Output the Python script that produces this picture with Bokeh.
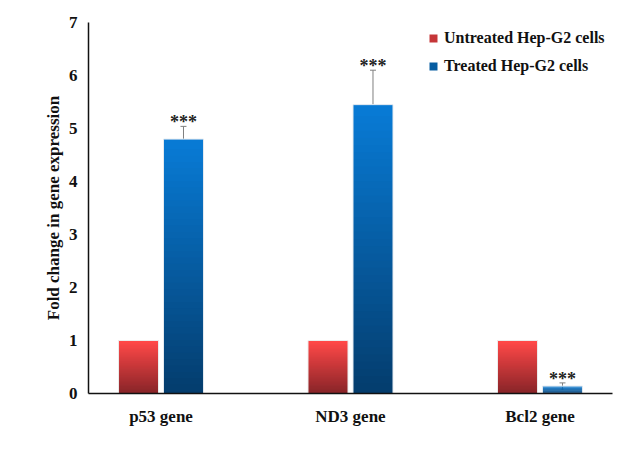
from bokeh.plotting import figure
from bokeh.models import (Range1d, FixedTicker, ColumnDataSource, Whisker, TeeHead,
                          Legend, LegendItem)
from bokeh.core.properties import value
from bokeh.embed import file_html
from bokeh.resources import INLINE

# ---- data ----
categories = ["p53 gene", "ND3 gene", "Bcl2 gene"]
untreated = [1.0, 1.0, 1.0]
treated = [4.80, 5.45, 0.14]
treated_err = [0.24, 0.65, 0.06]
stars = ["***", "***", "***"]
series_names = ["Untreated Hep-G2 cells", "Treated Hep-G2 cells"]
y_ticks = [0, 1, 2, 3, 4, 5, 6, 7]

FONT = "Liberation Serif"
FS = "17px"
BAR_W = 0.211
OFFSET = 0.1187
N_SLICES = 40

red_top, red_bot = (255, 72, 72), (135, 36, 40)
blue_top, blue_bot = (8, 122, 212), (4, 60, 108)


def lerp(c1, c2, t):
    return "#%02x%02x%02x" % tuple(int(round(a + (b - a) * t)) for a, b in zip(c1, c2))


def gradient_source(vals, off, top_c, bot_c):
    left, right, bottom, top, color = [], [], [], [], []
    for i, v in enumerate(vals):
        for k in range(N_SLICES):
            left.append(i + off - BAR_W / 2)
            right.append(i + off + BAR_W / 2)
            bottom.append(max(0.0, v * (k - 0.6) / N_SLICES))
            top.append(v * (k + 1) / N_SLICES)
            color.append(lerp(bot_c, top_c, k / (N_SLICES - 1)))
    return ColumnDataSource(dict(left=left, right=right, bottom=bottom, top=top, color=color))


p = figure(width=613, height=446, output_backend="svg", toolbar_location=None,
           x_range=Range1d(-0.3826, 2.3826), y_range=Range1d(0, 7),
           min_border_left=88, min_border_right=1, min_border_top=22, min_border_bottom=53)
p.outline_line_color = None
p.xgrid.grid_line_color = None
p.ygrid.grid_line_color = None

r_u = p.quad(left="left", right="right", bottom="bottom", top="top", fill_color="color",
             line_color=None, source=gradient_source(untreated, -OFFSET, red_top, red_bot))
r_t = p.quad(left="left", right="right", bottom="bottom", top="top", fill_color="color",
             line_color=None, source=gradient_source(treated, OFFSET, blue_top, blue_bot))

# thin light bar outlines
xs = list(range(len(categories)))
p.quad(left=[x - OFFSET - BAR_W / 2 for x in xs], right=[x - OFFSET + BAR_W / 2 for x in xs],
       bottom=0, top=untreated, fill_color=None, line_color="#ececec", line_width=1)
p.quad(left=[x + OFFSET - BAR_W / 2 for x in xs], right=[x + OFFSET + BAR_W / 2 for x in xs],
       bottom=0, top=treated, fill_color=None, line_color="#e4eaf0", line_width=1)

# error bars
xs_t = [i + OFFSET for i in xs]
err_src = ColumnDataSource(dict(
    x=xs_t,
    lower=[v - e for v, e in zip(treated, treated_err)],
    upper=[v + e for v, e in zip(treated, treated_err)],
    stars=stars))
p.add_layout(Whisker(base="x", lower="lower", upper="upper", source=err_src,
                     line_color="#7f7f7f", line_width=1,
                     upper_head=TeeHead(size=6, line_color="#7f7f7f", line_width=1),
                     lower_head=TeeHead(size=2, line_color="#7f7f7f", line_width=1)))
p.text(x="x", y="upper", text="stars", source=err_src, text_align="center",
       text_baseline="alphabetic", y_offset=-4, text_font=value(FONT),
       text_font_style="bold", text_font_size="18px", text_color="#222222")

mid = N_SLICES // 2
legend = Legend(items=[LegendItem(label=series_names[0], renderers=[r_u], index=mid),
                       LegendItem(label=series_names[1], renderers=[r_t], index=mid)],
                location=(340, 317), padding=0, spacing=8, glyph_width=10, glyph_height=10,
                label_height=20, label_standoff=6, background_fill_alpha=0,
                border_line_color=None, label_text_font=FONT, label_text_font_style="bold",
                label_text_font_size="16px", label_text_color="#111111", margin=0)
p.add_layout(legend)

# axes
p.xaxis.ticker = FixedTicker(ticks=xs)
p.xaxis.major_label_overrides = {i: c for i, c in enumerate(categories)}
p.yaxis.ticker = FixedTicker(ticks=y_ticks)
for ax in (p.xaxis[0], p.yaxis[0]):
    ax.axis_line_color = "#111111"
    ax.axis_line_width = 1.5
    ax.major_tick_line_color = None
    ax.minor_tick_line_color = None
    ax.major_label_text_font = FONT
    ax.major_label_text_font_style = "bold"
    ax.major_label_text_font_size = FS
    ax.major_label_text_color = "#111111"
p.yaxis.major_label_standoff = 5
p.xaxis.major_label_standoff = 7
p.yaxis.axis_label = "Fold change in gene expression"
p.yaxis.axis_label_text_font = FONT
p.yaxis.axis_label_text_font_style = "bold"
p.yaxis.axis_label_text_font_size = FS
p.yaxis.axis_label_text_color = "#111111"
p.yaxis.axis_label_standoff = 3

open("out.html", "w").write(file_html(p, INLINE))
